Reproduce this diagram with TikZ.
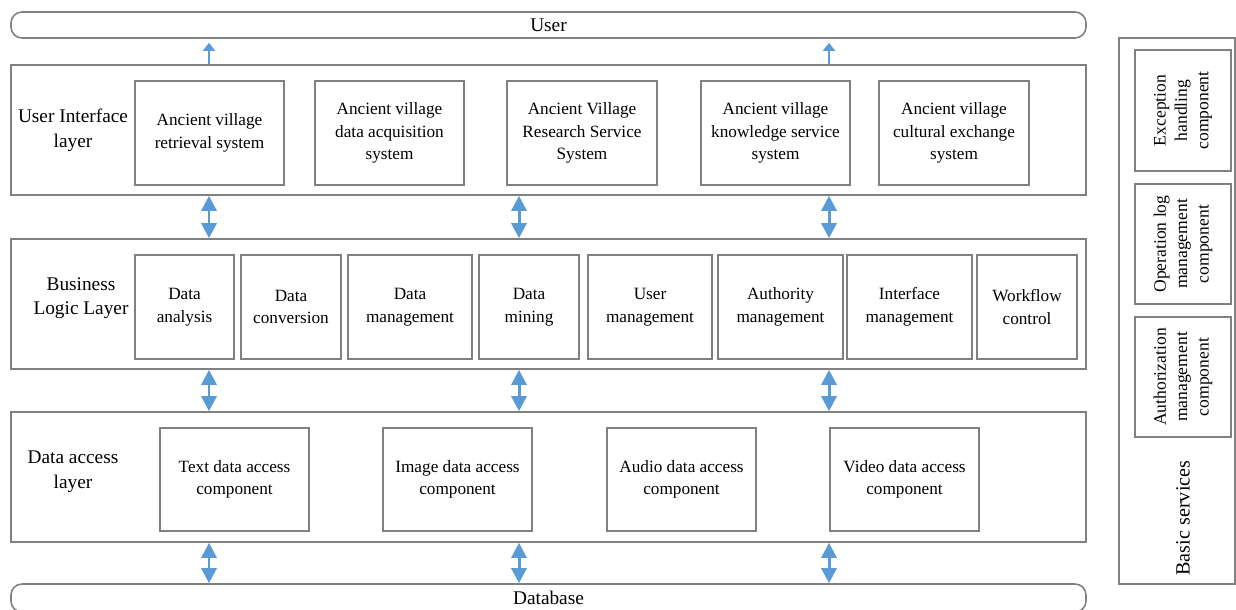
\documentclass[tikz,border=0pt]{standalone}
\usepackage{fontspec}
\setmainfont{Liberation Serif}
\usetikzlibrary{arrows.meta,positioning}
\definecolor{framegray}{HTML}{808080}
\definecolor{arrowblue}{HTML}{5B9BD5}

\begin{document}
\begin{tikzpicture}[x=0.02cm, y=-0.02cm,
  wh/.style 2 args={minimum width=#1*0.02cm, minimum height=#2*0.02cm},
  tier/.style={draw=framegray, line width=0.9pt, inner sep=0pt},
  capbar/.style={tier, rounded corners=0.22cm, font=\fontsize{11}{14}\selectfont},
  comp/.style={draw=framegray, line width=0.9pt, inner sep=0pt, align=center,
               font=\fontsize{9.8}{12.8}\selectfont},
  svcbox/.style={comp, rotate=90, font=\fontsize{10}{12.2}\selectfont},
  lbl/.style={align=center, font=\fontsize{11}{14}\selectfont},
  dbl/.style={arrowblue, line width=1.7pt,
              {Triangle[length=0.3cm,width=0.3cm]}-{Triangle[length=0.3cm,width=0.3cm]}},
  toparrow/.style={arrowblue, line width=1.3pt, -{Triangle[length=0.16cm,width=0.24cm]},
                   shorten >=0.08cm}]
  \useasboundingbox (0,0) rectangle (1236,609);
  % Bars and layers
  \node[capbar, wh={1075}{26}] (user) at (548.5,25) {User};
  \node[tier, wh={1075}{130}] (ui) at (548.5,130) {};
  \node[tier, wh={1075}{130}] (bl) at (548.5,304) {};
  \node[tier, wh={1075}{130}] (da) at (548.5,477) {};
  \node[capbar, wh={1075}{28}] (db) at (548.5,598) {Database};
  % Layer labels
  \node[lbl] (uilbl) at (73,130) {User Interface\\layer};
  \node[lbl] (bllbl) at (81,298) {Business\\Logic Layer};
  \node[lbl] (dalbl) at (73,472) {Data access\\layer};
  % User interface layer
  \node[comp, wh={149}{104}] (retr)  at (209.5,133) {Ancient village\\retrieval system};
  \node[comp, wh={149}{104}] (acq)   at (389.5,133) {Ancient village\\data acquisition\\system};
  \node[comp, wh={150}{104}] (res)   at (582,133)   {Ancient Village\\Research Service\\System};
  \node[comp, wh={149}{104}] (know)  at (775.5,133) {Ancient village\\knowledge service\\system};
  \node[comp, wh={150}{104}] (cult)  at (954,133)   {Ancient village\\cultural exchange\\system};
  % Business logic layer
  \node[comp, wh={99}{104}]  (anal)  at (184.5,307) {Data\\analysis};
  \node[comp, wh={100}{104}] (conv)  at (291,307)   {Data\\conversion};
  \node[comp, wh={124}{104}] (dman)  at (410,307)   {Data\\management};
  \node[comp, wh={100}{104}] (mine)  at (529,307)   {Data\\mining};
  \node[comp, wh={124}{104}] (uman)  at (650,307)   {User\\management};
  \node[comp, wh={125}{104}] (aman)  at (780.5,307) {Authority\\management};
  \node[comp, wh={125}{104}] (iman)  at (909.5,307) {Interface\\management};
  \node[comp, wh={100}{104}] (wflow) at (1027,307)  {Workflow\\control};
  % Data access layer
  \node[comp, wh={149}{103}] (txt)   at (234.5,479.5) {Text data access\\component};
  \node[comp, wh={149}{103}] (img)   at (457.5,479.5) {Image data access\\component};
  \node[comp, wh={149}{103}] (aud)   at (681.5,479.5) {Audio data access\\component};
  \node[comp, wh={149}{103}] (vid)   at (904.5,479.5) {Video data access\\component};
  % Basic services
  \node[tier, wh={116}{546}] (basic) at (1177,311) {};
  \node[svcbox, wh={121}{96}] (exc)   at (1183,110.5) {Exception\\handling\\component};
  \node[svcbox, wh={120}{96}] (oplog) at (1183,244)   {Operation log\\management\\component};
  \node[svcbox, wh={120}{96}] (auth)  at (1183,377)   {Authorization\\management\\component};
  \node[lbl, rotate=90, font=\fontsize{11.5}{14}\selectfont] (basiclbl) at (1183,518) {Basic services};
  % Arrows
  \coordinate (c1) at (209,0);
  \coordinate (c2) at (519,0);
  \coordinate (c3) at (829,0);
  \draw[toparrow] (c1 |- ui.north) -- (c1 |- user.south);
  \draw[toparrow] (c3 |- ui.north) -- (c3 |- user.south);
  \foreach \c in {c1,c2,c3} {
    \draw[dbl] (\c |- ui.south) -- (\c |- bl.north);
    \draw[dbl] (\c |- bl.south) -- (\c |- da.north);
    \draw[dbl] (\c |- da.south) -- (\c |- db.north);
  }
\end{tikzpicture}
\end{document}
